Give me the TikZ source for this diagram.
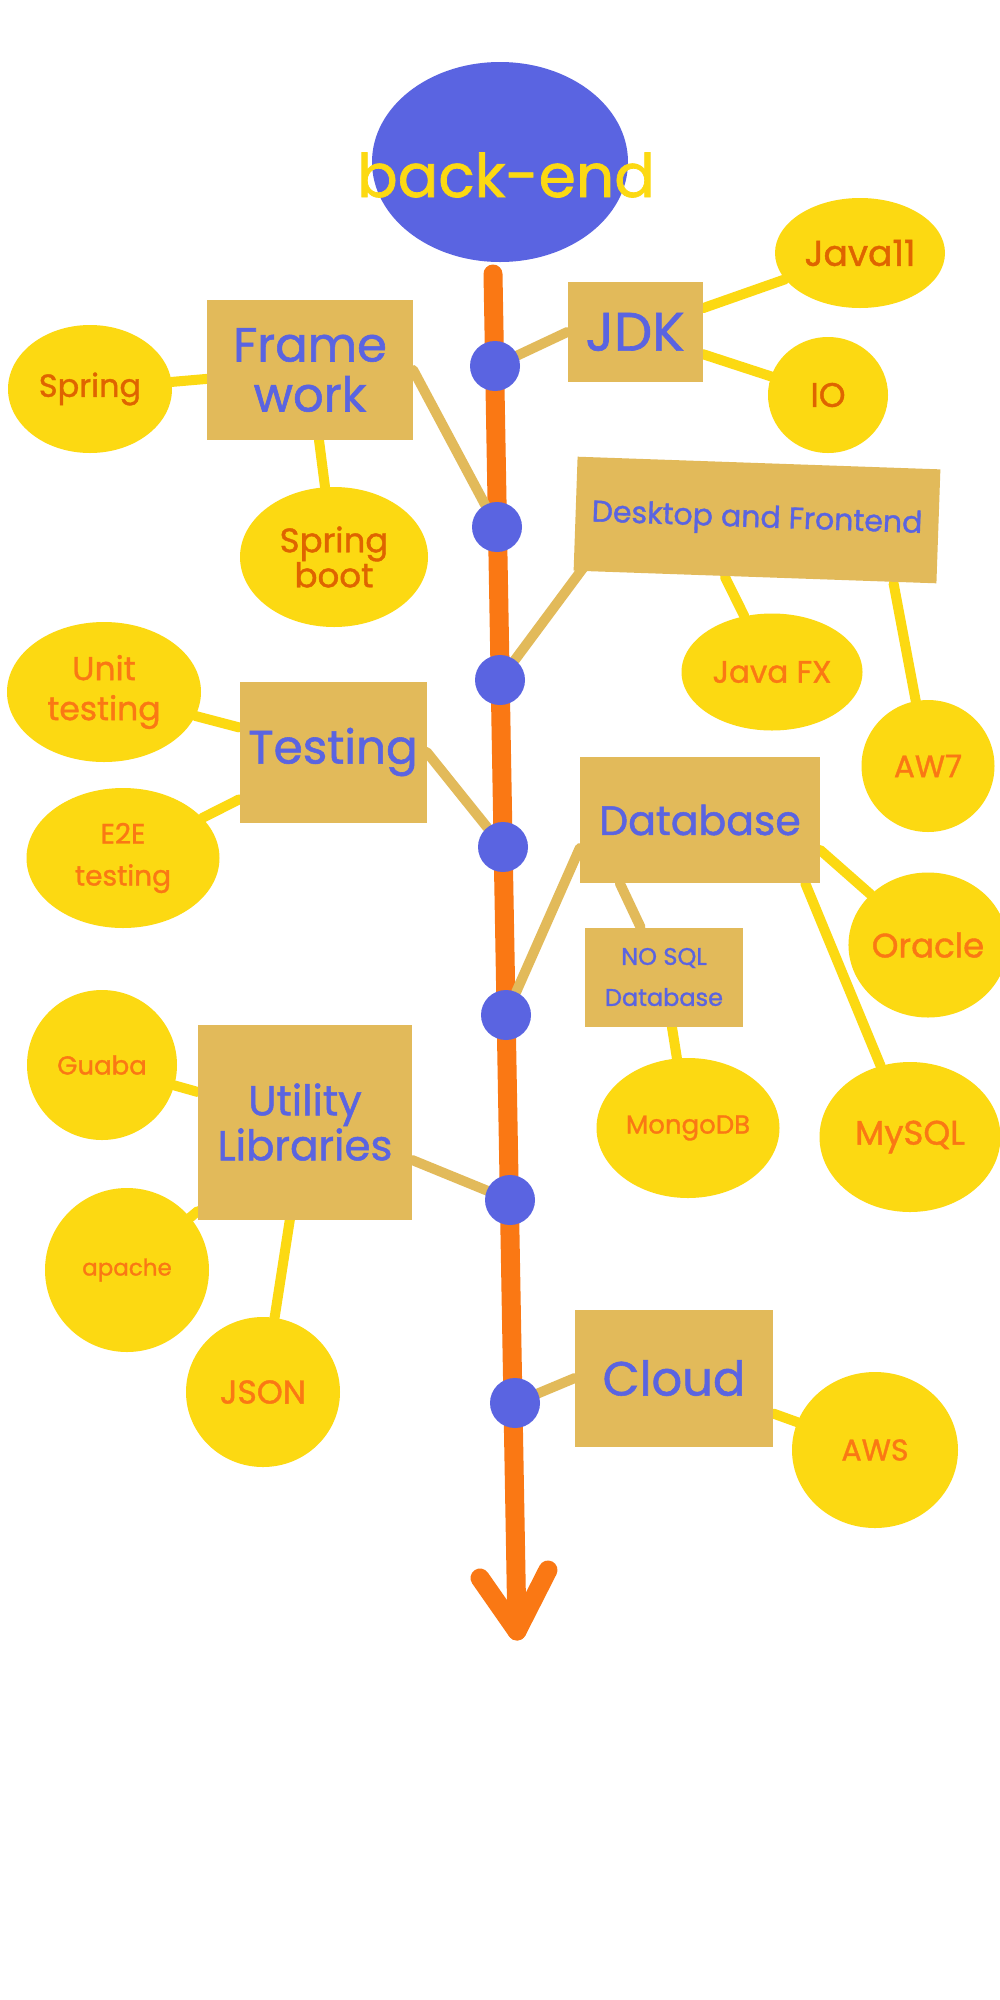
\documentclass[tikz,border=0pt]{standalone}
\usepackage{fontspec}
\setmainfont{Poppins}[FakeBold=1.2]
\usetikzlibrary{shapes.geometric,backgrounds}
\pgfdeclarelayer{canvas}
\pgfsetlayers{canvas,background,main}
\definecolor{cblue}{HTML}{5A64E1}
\definecolor{corange}{HTML}{FA7814}
\definecolor{cdarkor}{HTML}{DF6400}
\definecolor{cyel}{HTML}{FCD912}
\definecolor{ctan}{HTML}{E2BA5A}
\newcommand{\fsz}[2]{\fontsize{#1}{#2}\selectfont}
\tikzset{
  tbox/.style={rectangle, fill=ctan, inner sep=0pt, text=cblue, align=center},
  leaf/.style={ellipse, fill=cyel, inner sep=0pt, align=center, text=corange},
  dleaf/.style={leaf, text=cdarkor},
  bdot/.style={circle, fill=cblue, minimum size=50pt, inner sep=0pt},
  yline/.style={draw=cyel, line width=10pt, line cap=round},
  tline/.style={draw=ctan, line width=10pt, line cap=round},
  axisline/.style={draw=corange, line width=19pt, line cap=round, line join=round}
}
\begin{document}
\begin{tikzpicture}[x=1pt,y=-1pt]
\begin{pgfonlayer}{canvas}
\fill[white] (0,0) rectangle (1000,2000);
\end{pgfonlayer}
\useasboundingbox (0,0) rectangle (1000,2000);

% root
\node[ellipse, fill=cblue, minimum width=256pt, minimum height=200pt, inner sep=0pt] (root) at (500,162) {};
\node[anchor=base, text=cyel, inner sep=0pt, font=\fsz{60}{64}] (roottxt) at (506,197) {back-end};

% axis
\coordinate (axtop) at (493,274);
\coordinate (axtip) at (517,1631);
\coordinate (arl) at (480,1578);
\coordinate (arr) at (548,1570);

% dots on the axis
\node[bdot] (d1) at (495,366) {};
\node[bdot] (d2) at (497,527) {};
\node[bdot] (d3) at (500,680) {};
\node[bdot] (d4) at (503,847) {};
\node[bdot] (d5) at (506,1015) {};
\node[bdot] (d6) at (510,1200) {};
\node[bdot] (d7) at (515,1403) {};

% category boxes
\node[tbox, minimum width=206pt, minimum height=140pt, font=\fsz{48}{50}] (fw) at (310,370) {Frame\\work};
\node[tbox, minimum width=135pt, minimum height=100pt, font=\fsz{54}{50}] (jdk) at (635,332) {JDK};
\node[tbox, minimum width=363pt, minimum height=114pt, font=\fsz{30}{36}, rotate=-2] (desk) at (757,520) {Desktop and Frontend};
\node[tbox, minimum width=240pt, minimum height=126pt, font=\fsz{41}{50}] (db) at (700,820) {Database};
\node[tbox, minimum width=158pt, minimum height=99pt, font=\fsz{24}{41}] (nosql) at (664,977) {NO SQL\\Database};
\node[tbox, minimum width=187pt, minimum height=141pt, font=\fsz{47}{50}] (test) at (333,752) {Testing};
\node[tbox, minimum width=214pt, minimum height=195pt, font=\fsz{42}{45}] (ul) at (305,1122) {Utility\\Libraries};
\node[tbox, minimum width=198pt, minimum height=137pt, font=\fsz{48}{60}] (cloud) at (674,1378) {Cloud};

% leaves
\node[dleaf, minimum width=170pt, minimum height=110pt, font=\fsz{36}{40}] (java11) at (860,253) {Java11};
\node[dleaf, minimum width=120pt, minimum height=116pt, font=\fsz{34}{40}] (io) at (828,395) {IO};
\node[dleaf, minimum width=164pt, minimum height=128pt, font=\fsz{32}{40}] (spring) at (90,389) {Spring};
\node[dleaf, minimum width=188pt, minimum height=140pt, font=\fsz{34}{35}] (sboot) at (334,557) {Spring\\boot};
\node[leaf, minimum width=181pt, minimum height=117pt, font=\fsz{31}{40}] (javafx) at (772,672) {Java FX};
\node[leaf, minimum width=133pt, minimum height=132pt, font=\fsz{31}{40}] (aw7) at (928,766) {AW7};
\node[leaf, minimum width=183pt, minimum height=140pt, font=\fsz{26}{40}] (mongo) at (688,1128) {MongoDB};
\node[leaf, minimum width=146pt, minimum height=145pt, font=\fsz{34}{40}] (oracle) at (928,945) {Oracle};
\node[leaf, minimum width=181pt, minimum height=150pt, font=\fsz{34}{40}] (mysql) at (910,1137) {MySQL};
\node[leaf, minimum width=194pt, minimum height=140pt, font=\fsz{33}{40}] (unit) at (104,692) {Unit\\testing};
\node[leaf, minimum width=193pt, minimum height=140pt, font=\fsz{28}{42}] (e2e) at (123,858) {E2E\\testing};
\node[leaf, minimum width=150pt, minimum height=150pt, font=\fsz{26}{40}] (guaba) at (102,1065) {Guaba};
\node[leaf, minimum width=164pt, minimum height=164pt, font=\fsz{23}{40}] (apache) at (127,1270) {apache};
\node[leaf, minimum width=154pt, minimum height=150pt, font=\fsz{33}{40}] (json) at (263,1392) {JSON};
\node[leaf, minimum width=166pt, minimum height=156pt, font=\fsz{30}{40}] (aws) at (875,1450) {AWS};

\begin{scope}[on background layer]
  % main axis with arrow head
  \draw[axisline] (axtop) -- (axtip);
  \draw[axisline] (arl) -- (axtip) -- (arr);
  % category links to the axis
  \draw[tline] (jdk.west) -- (d1);
  \draw[tline] (fw.east) -- (d2);
  \draw[tline] ([xshift=18pt,yshift=14pt]desk.south west) -- (d3);
  \draw[tline] (test.east) -- (d4);
  \draw[tline] ([yshift=-28pt]db.west) -- (d5);
  \draw[tline] ([yshift=-38pt]ul.east) -- (d6);
  \draw[tline] (cloud.west) -- (d7);
  \draw[tline] ([xshift=40pt]db.south west) -- (nosql);
  % leaf links
  \draw[yline] (spring) -- (fw);
  \draw[yline] (sboot) -- (fw);
  \draw[yline] (jdk) -- (java11);
  \draw[yline] (jdk) -- (io);
  \draw[yline] ([xshift=-30pt]desk.south) -- (javafx);
  \draw[yline] ([xshift=-43pt]desk.south east) -- (aw7);
  \draw[yline] ([yshift=-30pt]db.east) -- (oracle);
  \draw[yline] ([xshift=-15pt]db.south east) -- (mysql);
  \draw[yline] (nosql) -- (mongo);
  \draw[yline] (unit) -- (test);
  \draw[yline] (e2e) -- (test);
  \draw[yline] (guaba) -- (ul);
  \draw[yline] (apache) -- (ul);
  \draw[yline] (json) -- (ul);
  \draw[yline] (cloud) -- (aws);
\end{scope}
\end{tikzpicture}
\end{document}
